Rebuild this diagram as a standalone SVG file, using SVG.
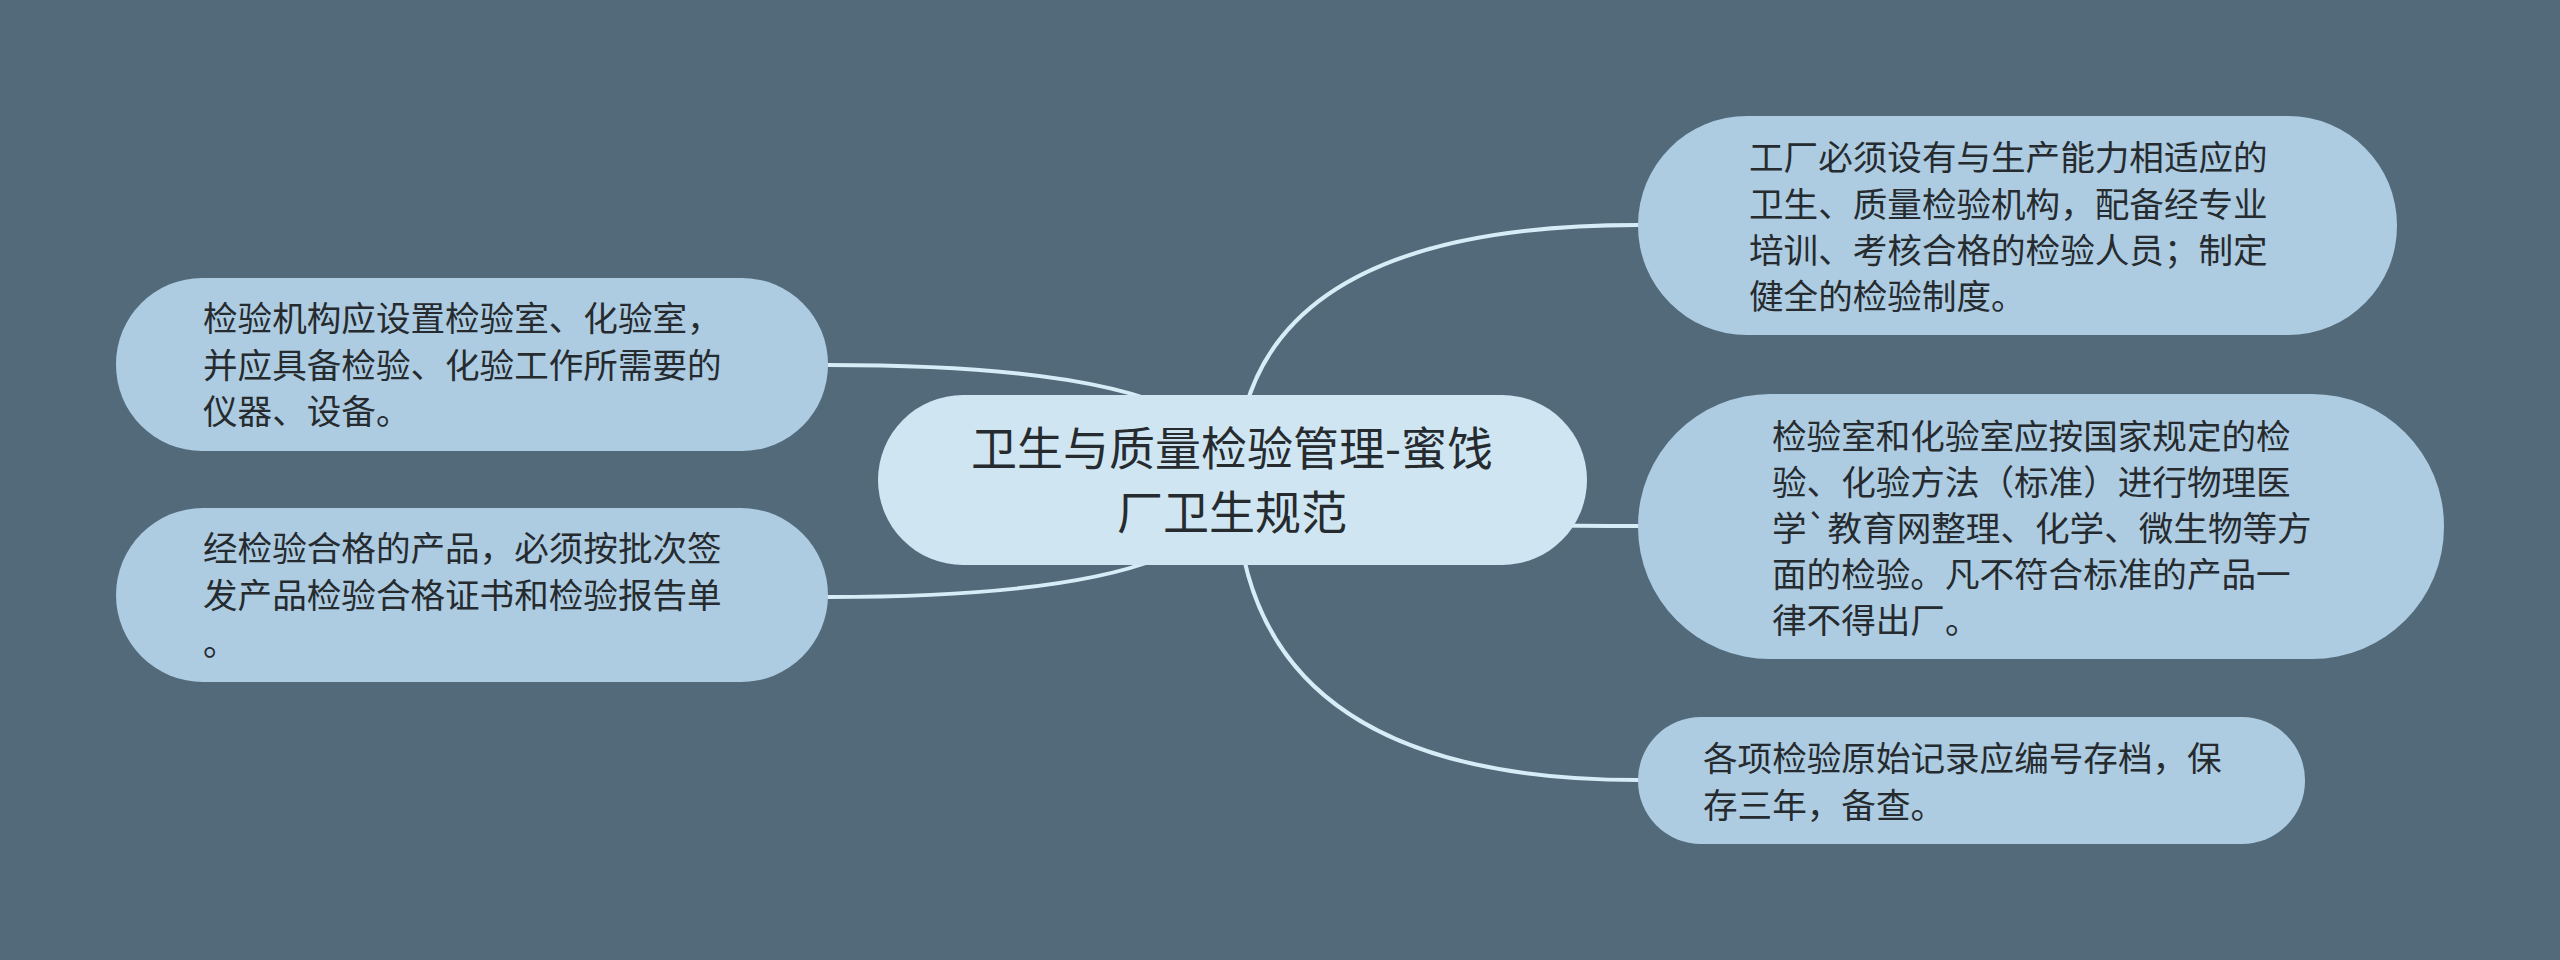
<svg xmlns="http://www.w3.org/2000/svg" width="2560" height="960" viewBox="0 0 2560 960">
<style>
.bg{fill:#526a7a}
.edge{fill:none;stroke:#d6ecf6;stroke-width:4;stroke-linecap:round}
.node{fill:#adcbe1}
.root{fill:#cfe6f2}
.t{font-family:"Noto Sans CJK SC","Noto Sans",sans-serif;font-size:34.6px;fill:#262b2f}
.rt{font-family:"Noto Sans CJK SC","Noto Sans",sans-serif;font-size:46px;fill:#262b2f;text-anchor:middle}
</style>
<rect class="bg" x="0" y="0" width="2560" height="960"/>
<g id="connectors">
<path class="edge" d="M1236,480 Q1236,225 1638,225"/>
<path class="edge" d="M1236,480 Q1236,526 1638,526"/>
<path class="edge" d="M1236,480 Q1236,780 1638,780"/>
<path class="edge" d="M1232,480 Q1232,365 828,365"/>
<path class="edge" d="M1232,480 Q1232,597 828,597"/>
</g>
<g id="root">
<rect class="root" x="878" y="395" width="709" height="170" rx="85" ry="85"/>
<text class="rt" x="1232" y="465">卫生与质量检验管理-蜜饯</text>
<text class="rt" x="1232" y="529">厂卫生规范</text>
</g>
<g id="node-l1">
<rect class="node" x="116" y="278" width="712" height="173" rx="86" ry="86"/>
<text class="t" x="203" y="331">检验机构应设置检验室、化验室，</text>
<text class="t" x="203" y="378">并应具备检验、化验工作所需要的</text>
<text class="t" x="203" y="424">仪器、设备。</text>
</g>
<g id="node-l2">
<rect class="node" x="116" y="508" width="712" height="174" rx="87" ry="87"/>
<text class="t" x="203" y="561">经检验合格的产品，必须按批次签</text>
<text class="t" x="203" y="608">发产品检验合格证书和检验报告单</text>
<text class="t" x="203" y="655">。</text>
</g>
<g id="node-r1">
<rect class="node" x="1638" y="116" width="759" height="219" rx="109" ry="109"/>
<text class="t" x="1749" y="170">工厂必须设有与生产能力相适应的</text>
<text class="t" x="1749" y="217">卫生、质量检验机构，配备经专业</text>
<text class="t" x="1749" y="263">培训、考核合格的检验人员；制定</text>
<text class="t" x="1749" y="309">健全的检验制度。</text>
</g>
<g id="node-r2">
<rect class="node" x="1638" y="394" width="806" height="265" rx="132" ry="132"/>
<text class="t" x="1772" y="449">检验室和化验室应按国家规定的检</text>
<text class="t" x="1772" y="495">验、化验方法（标准）进行物理医</text>
<text class="t" x="1772" y="541">学`教育网整理、化学、微生物等方</text>
<text class="t" x="1772" y="587">面的检验。凡不符合标准的产品一</text>
<text class="t" x="1772" y="633">律不得出厂。</text>
</g>
<g id="node-r3">
<rect class="node" x="1638" y="717" width="667" height="127" rx="63" ry="63"/>
<text class="t" x="1703" y="771">各项检验原始记录应编号存档，保</text>
<text class="t" x="1703" y="818">存三年，备查。</text>
</g>
</svg>
